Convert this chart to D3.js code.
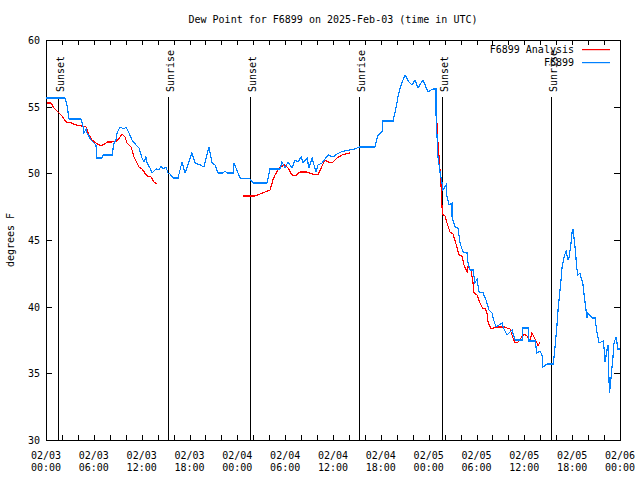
<!DOCTYPE html>
<html><head><meta charset="utf-8">
<script src="https://cdn.jsdelivr.net/npm/d3@7"></script>
<style>
html,body{margin:0;padding:0;background:#fff;}
text{font-family:"DejaVu Sans Mono","Liberation Mono",monospace;font-size:10px;fill:#000;}
</style></head>
<body>
<svg id="chart" width="640" height="480"></svg>
<script>
// ---- data (hours after 2025-02-03 00:00 UTC, degrees F) ----
const titleText = "Dew Point for F6899 on 2025-Feb-03 (time in UTC)";
const yLabel = "degrees F";
const seriesNames = ["F6899 Analysis", "F6899"];
const seriesColors = ["#ff0000", "#0080ff"];
const yTicks = [30, 35, 40, 45, 50, 55, 60];
const sunEvents = [[1.5,"Sunset"],[15.3,"Sunrise"],[25.6,"Sunset"],[39.3,"Sunrise"],[49.7,"Sunset"],[63.4,"Sunrise"]];

const stationObs = [[0,55.65],[2.38,55.65],[2.63,55.13],[2.89,54.08],[4.39,54.08],[4.64,53.55],[4.77,53.03],[5.02,53.33],[5.14,53.03],[5.64,52.5],[6.27,52.13],[6.4,51.15],[7.02,51.15],[7.15,51.38],[8.28,51.38],[8.53,52.28],[8.78,52.5],[8.91,53.03],[9.28,53.48],[9.78,53.33],[10.04,53.48],[10.41,53.03],[10.79,52.5],[11.29,52.13],[11.67,51.9],[12.04,51.15],[12.29,50.85],[12.54,51.23],[12.67,50.78],[13.05,50.4],[13.3,50.03],[13.8,50.33],[14.17,50.25],[14.43,50.55],[14.68,50.33],[15.05,50.48],[15.3,50.03],[15.55,49.95],[15.93,49.65],[16.56,49.65],[17.06,50.85],[17.44,50.03],[17.81,50.63],[18.31,51.53],[18.69,50.78],[19.32,50.63],[19.82,50.48],[20.45,51.98],[20.82,50.78],[21.2,50.63],[21.58,50.03],[22.2,50.03],[22.45,50.18],[22.7,50.03],[23.46,50.03],[23.58,50.78],[24.33,49.65],[25.59,49.58],[25.97,49.28],[27.72,49.28],[28.1,50.33],[29.35,50.33],[29.6,50.85],[29.98,50.4],[30.36,50.85],[30.86,50.4],[31.23,51.0],[31.61,50.85],[31.99,51.23],[32.24,50.78],[32.74,51.15],[32.99,50.4],[33.37,51.15],[33.87,50.1],[34.12,50.63],[34.62,50.78],[35.0,51.08],[35.37,51.38],[36.0,51.23],[36.5,51.45],[37.0,51.6],[37.51,51.68],[38.76,51.83],[39.26,51.98],[41.27,51.98],[41.65,52.88],[42.15,53.1],[42.27,53.93],[43.53,53.93],[43.9,54.9],[44.15,55.73],[44.41,56.4],[44.78,57.0],[45.03,57.38],[45.53,56.85],[45.91,56.63],[46.29,57.0],[46.66,56.4],[47.29,57.0],[47.92,56.1],[48.29,56.25],[48.67,56.33],[48.92,56.33],[48.93,54.38],[49.05,52.73],[49.17,51.23],[49.42,50.1],[49.67,49.28],[49.8,48.75],[50.18,49.13],[50.3,48.23],[50.55,47.63],[50.93,47.78],[50.94,46.73],[51.3,45.98],[51.68,45.9],[51.93,44.78],[52.31,44.1],[52.81,44.03],[52.93,43.28],[53.19,42.75],[53.56,42.75],[53.81,41.78],[54.06,42.08],[54.32,41.1],[54.82,41.03],[55.19,40.5],[55.57,39.75],[55.95,39.53],[56.07,39.15],[56.45,38.48],[57.2,38.78],[57.33,38.48],[57.83,37.88],[58.46,38.25],[58.83,37.5],[59.71,37.5],[59.83,38.4],[60.46,38.4],[60.59,37.43],[61.34,37.43],[61.59,36.53],[61.97,36.68],[62.22,36.38],[62.34,35.48],[62.85,35.7],[63.6,35.7],[63.73,36.23],[64.1,38.63],[64.23,39.75],[64.6,42.0],[64.73,42.9],[64.98,43.73],[65.23,44.18],[65.48,43.5],[65.6,43.65],[65.86,44.78],[65.98,45.53],[66.11,45.83],[66.36,44.48],[66.61,42.75],[66.73,42.38],[66.98,42.53],[67.36,41.63],[67.61,40.35],[67.86,39.15],[67.99,39.53],[68.49,39.15],[68.87,39.15],[69.12,38.03],[69.37,37.28],[69.87,37.43],[70.0,36.9],[70.12,35.85],[70.37,36.75],[70.5,37.13],[70.62,34.5],[70.69,33.53],[70.87,34.65],[71.12,36.23],[71.25,37.28],[71.5,37.73],[71.75,36.83],[72.0,36.83]];

const analysisSeg1 = [[0.13,55.28],[0.63,55.28],[1.0,54.9],[1.63,54.53],[2.01,54.3],[2.51,53.85],[3.14,53.78],[3.76,53.63],[4.52,53.55],[5.02,53.48],[5.39,52.88],[5.77,52.5],[6.27,52.28],[6.9,52.05],[7.53,52.28],[7.65,52.35],[8.28,52.35],[8.91,52.43],[9.28,52.73],[9.53,52.95],[9.91,52.73],[10.16,52.28],[10.66,51.98],[10.79,51.75],[11.04,51.23],[11.41,50.78],[11.67,50.48],[12.04,50.33],[12.67,49.8],[13.17,49.73],[13.55,49.35],[13.92,49.2]];
const analysisSeg2 = [[24.71,48.3],[26.22,48.3],[26.84,48.45],[27.47,48.6],[28.1,48.75],[28.47,49.5],[28.73,49.88],[29.35,50.48],[29.98,50.63],[30.36,50.4],[30.86,49.88],[31.23,49.8],[31.86,50.1],[32.74,50.1],[33.37,49.95],[34.12,49.88],[34.62,50.55],[35.0,51.0],[35.62,50.78],[36.0,50.85],[36.5,51.15],[37.13,51.38],[38.13,51.53]];
const analysisSeg3 = [[49.05,53.78],[49.17,52.28],[49.3,51.23],[49.55,49.13],[49.67,47.48],[49.8,46.88],[50.05,46.8],[50.3,46.28],[50.68,45.6],[51.05,45.45],[51.3,45.0],[51.56,44.4],[51.81,43.88],[52.18,43.8],[52.43,43.13],[52.81,42.6],[52.93,42.98],[53.31,42.75],[53.56,41.78],[53.69,41.03],[54.06,40.88],[54.44,40.28],[54.82,39.83],[55.07,39.9],[55.32,39.53],[55.44,38.85],[55.82,38.33],[56.57,38.48],[57.45,38.48],[57.83,38.4],[58.2,38.33],[58.58,37.65],[58.83,37.28],[59.21,37.35],[59.58,37.65],[59.96,37.95],[60.34,37.8],[60.71,37.43],[60.96,38.03],[61.21,37.73],[61.59,37.28],[61.72,37.05],[61.97,37.35]];

// ---- layout ----
const M = {left:46, right:620, top:40, bottom:440};
const t0 = Date.UTC(2025,1,3,0,0);
const toDate = h => new Date(t0 + h*3600000);
const svg = d3.select("#chart");

const x = d3.scaleUtc().domain([toDate(0), toDate(72)]).range([M.left, M.right]);
const y = d3.scaleLinear().domain([30,60]).range([M.bottom, M.top]);

// title
svg.append("text").attr("x",(M.left+M.right)/2).attr("y",23).attr("text-anchor","middle").text(titleText);
// y label
svg.append("text").attr("transform",`translate(14,${(M.top+M.bottom)/2}) rotate(-90)`).attr("text-anchor","middle").text(yLabel);

// ticks
const minorTicks = d3.utcHour.every(2).range(toDate(0), toDate(72.01));
const majorTicks = d3.utcHour.every(6).range(toDate(0), toDate(72.01));
const g = svg.append("g").attr("shape-rendering","crispEdges").attr("stroke","#000").attr("stroke-width",1);
minorTicks.forEach(d=>{
  const px = Math.round(x(d))+0.5;
  g.append("line").attr("x1",px).attr("x2",px).attr("y1",M.bottom).attr("y2",M.bottom-5);
  g.append("line").attr("x1",px).attr("x2",px).attr("y1",M.top).attr("y2",M.top+5);
});
yTicks.forEach(v=>{
  const py = Math.round(y(v))+0.5;
  g.append("line").attr("x1",M.left).attr("x2",M.left+6).attr("y1",py).attr("y2",py);
  g.append("line").attr("x1",M.right).attr("x2",M.right-6).attr("y1",py).attr("y2",py);
  svg.append("text").attr("x",M.left-6).attr("y",y(v)+4).attr("text-anchor","end").text(v);
});
const fDay = d3.utcFormat("%m/%d"), fHour = d3.utcFormat("%H:%M");
majorTicks.forEach(d=>{
  svg.append("text").attr("x",x(d)).attr("y",459).attr("text-anchor","middle").text(fDay(d));
  svg.append("text").attr("x",x(d)).attr("y",471).attr("text-anchor","middle").text(fHour(d));
});

// lines
const line = d3.line().x(d=>x(toDate(d[0]))).y(d=>y(d[1]));
[analysisSeg1, analysisSeg2, analysisSeg3].forEach(seg=>{
  svg.append("path").attr("d",line(seg)).attr("fill","none").attr("stroke",seriesColors[0]).attr("stroke-width",1.2).attr("shape-rendering","crispEdges");
});
svg.append("path").attr("d",line(stationObs)).attr("fill","none").attr("stroke",seriesColors[1]).attr("stroke-width",1.2).attr("shape-rendering","crispEdges");

// sun events
sunEvents.forEach(([h,label])=>{
  const px = Math.round(x(toDate(h)))+0.5;
  g.append("line").attr("x1",px).attr("x2",px).attr("y1",97).attr("y2",M.bottom);
  svg.append("text").attr("transform",`translate(${px+5},92) rotate(-90)`).attr("text-anchor","start").text(label);
});

// border
g.append("rect").attr("x",M.left+0.5).attr("y",M.top+0.5).attr("width",M.right-M.left).attr("height",M.bottom-M.top).attr("fill","none");

// legend
seriesNames.forEach((n,i)=>{
  const ly = 49 + i*13;
  svg.append("text").attr("x",574).attr("y",ly+4).attr("text-anchor","end").text(n);
  svg.append("rect").attr("x",582).attr("y",ly).attr("width",28).attr("height",1.2).attr("fill",seriesColors[i]);
});
</script>
</body></html>
